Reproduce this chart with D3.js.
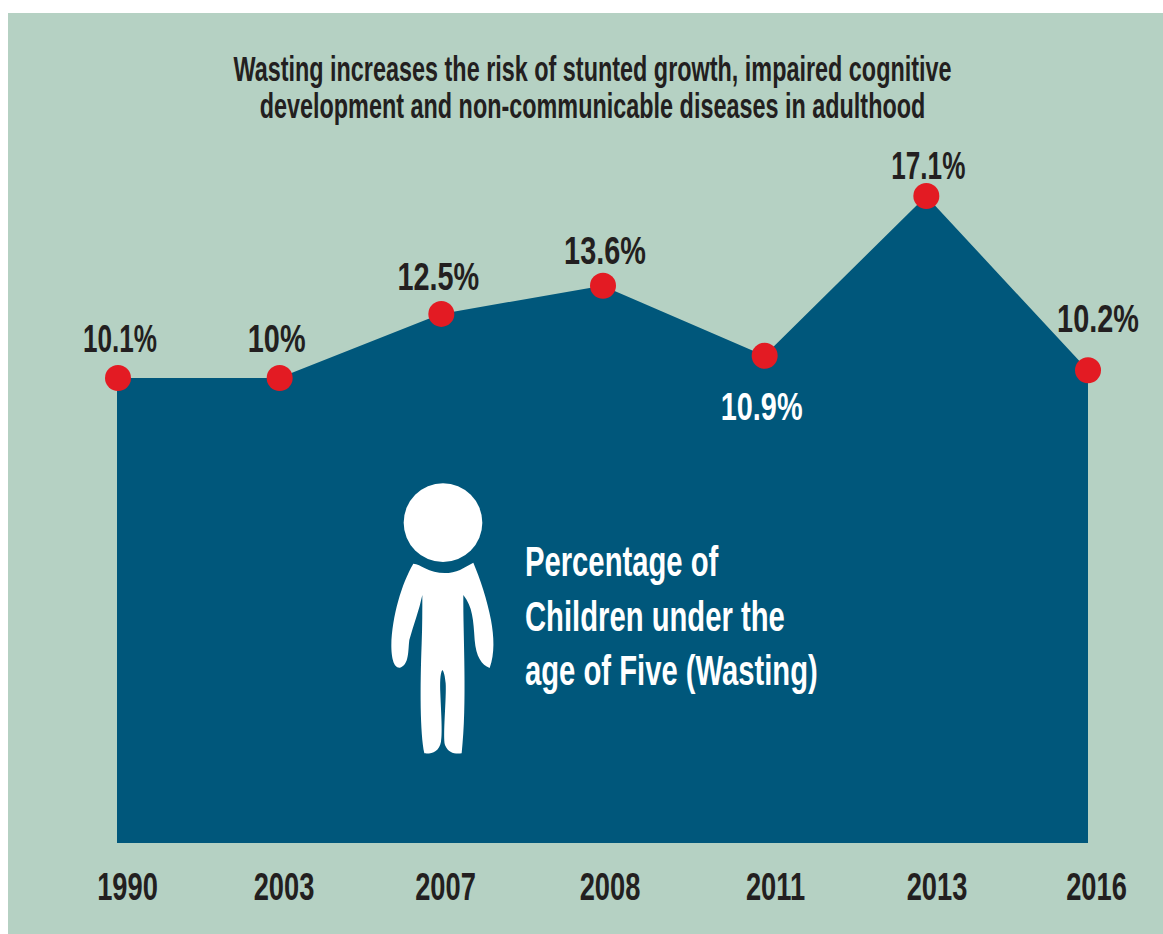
<!DOCTYPE html>
<html><head><meta charset="utf-8">
<script src="https://cdn.jsdelivr.net/npm/d3@7/dist/d3.min.js"></script>
<style>
html,body{margin:0;padding:0;background:#fff}
svg{display:block}
text{font-family:"Liberation Sans",sans-serif;font-weight:700}
</style></head><body>
<svg id="c" width="1163" height="934"></svg>
<script>
const years = ["1990","2003","2007","2008","2011","2013","2016"];
const plotted = [10.0,10.0,12.5,13.6,10.87,17.1,10.3];
const valueLabels = ["10.1%","10%","12.5%","13.6%","10.9%","17.1%","10.2%"];
const titleLines = ["Wasting increases the risk of stunted growth, impaired cognitive","development and non-communicable diseases in adulthood"];
const captionLines = ["Percentage of","Children under the","age of Five (Wasting)"];

const DARK="#231f20", BLUE="#00577b", RED="#e31b23", BG="#b5d1c3";
const svg=d3.select("#c");
svg.append("rect").attr("x",8).attr("y",13).attr("width",1155).attr("height",921).attr("fill",BG);

const xArea=d3.scalePoint().domain(years).range([117,1088]);
const xDot=d3.scalePoint().domain(years).range([118,1088]);
const xTick=d3.scalePoint().domain(years).range([127,1096]);
const y=d3.scaleLinear().domain([10,17.1]).range([378,196]);
const floorY=843;
const rows=years.map((yr,i)=>({yr,v:plotted[i],label:valueLabels[i]}));

svg.append("path").datum(rows).attr("fill",BLUE)
  .attr("d",d3.area().x(d=>xArea(d.yr)).y0(floorY).y1(d=>y(d.v)));

// condensed text helper
function txt(parent,s,x,yy,size,sx,fill,anchor){
  return parent.append("text").text(s)
    .attr("transform",`translate(${x},${yy}) scale(${sx},1)`)
    .attr("font-size",size).attr("fill",fill).attr("text-anchor",anchor);
}

titleLines.forEach((t,i)=>txt(svg,t,592.5,81+i*37,36,0.65,DARK,"middle"));

svg.selectAll("circle.pt").data(rows).join("circle").attr("class","pt")
  .attr("cx",d=>xDot(d.yr)).attr("cy",d=>y(d.v)).attr("r",13).attr("fill",RED);

const labelLift={"1990":26,"2003":26,"2007":24,"2008":22,"2011":-64,"2013":17,"2016":38};
const labelShift={"1990":2,"2003":-3,"2007":-3,"2008":2,"2011":-3,"2013":2,"2016":10};
rows.forEach(d=>{
  const sx=/\.1%/.test(d.label)?0.67:0.74;
  txt(svg,d.label,xDot(d.yr)+labelShift[d.yr],y(d.v)-labelLift[d.yr],39,sx,d.yr==="2011"?"#fff":DARK,"middle");
});

const tickShift={"1990":0,"2003":-5,"2007":-5,"2008":-2,"2011":2,"2013":2,"2016":0};
const axis=svg.append("g").attr("transform",`translate(0,${floorY})`)
  .call(d3.axisBottom(xTick).tickSize(0).tickPadding(0));
axis.select(".domain").remove();
axis.selectAll("text").attr("dy",0).attr("y",0)
  .attr("transform",d=>`translate(${tickShift[d]},57) scale(0.7,1)`)
  .attr("font-size",39).attr("fill",DARK);

// figure
const fig=svg.append("g").attr("transform","translate(380,470) scale(0.3333)").attr("fill","#fff");
fig.append("circle").attr("cx",189).attr("cy",158).attr("r",118);
fig.append("path").attr("d","M100,281 C112,281 122,288 135,295 C165,312 210,314 240,300 L280,278 C300,325 322,390 333,450 C342,500 345,550 329,594 C305,585 288,560 284,510 C280,450 278,410 250,375 C249,500 262,700 245,850 C225,852 205,850 195,825 C188,800 200,680 197,640 C195,620 192,605 187,600 C180,610 180,640 181,670 C183,720 188,790 183,815 C178,845 155,852 133,850 C120,790 120,650 125,520 C127,470 127,420 127,375 C118,420 100,465 88,510 C84,540 88,585 60,593 C40,595 34,560 34,525 C36,440 65,340 100,281 Z");

captionLines.forEach((t,i)=>txt(svg,t,525,576+i*54.5,43,0.68,"#fff","start"));
</script></body></html>
